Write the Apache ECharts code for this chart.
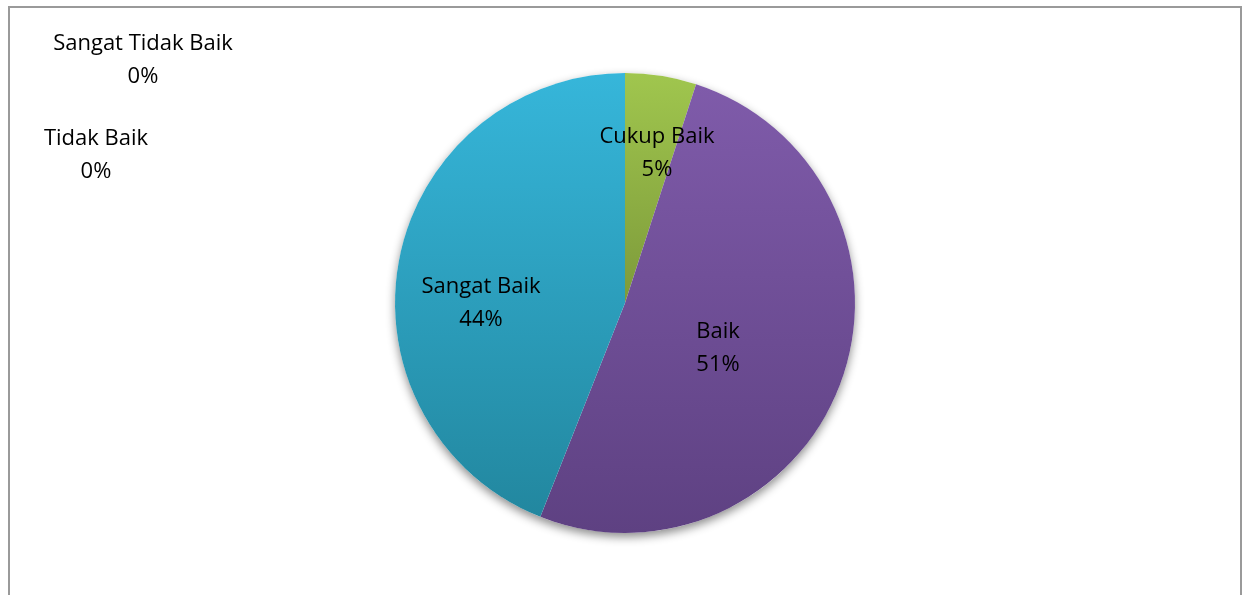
<!DOCTYPE html>
<html>
<head>
<meta charset="utf-8">
<script src="https://cdn.jsdelivr.net/npm/echarts@6/dist/echarts.min.js"></script>
<style>
  html, body { margin: 0; padding: 0; background: #fff; }
  #chart { position: absolute; left: 0; top: 0; width: 1247px; height: 595px; }
  #frame {
    position: absolute; left: 8px; top: 6px; width: 1234px; height: 700px;
    box-sizing: border-box; border: 2px solid #9a9a9a; border-bottom: none;
    pointer-events: none;
  }
</style>
</head>
<body>
<div id="chart"></div>
<div id="frame"></div>
<script>
// Categories in the order of the original worksheet
const categories = ['Sangat Tidak Baik', 'Tidak Baik', 'Cukup Baik', 'Baik', 'Sangat Baik'];
const percentages = [0, 0, 5, 51, 44];

// top / bottom colours of each slice gradient
const topColors = ['#4F81BD', '#C0504D', '#A0C64E', '#7F5BAA', '#36B6DA'];
const bottomColors = ['#3C6494', '#983C3A', '#7D9A3A', '#5E4182', '#22879F'];

// where Excel put each data label (centre of the text block)
const labelSpots = [[143, 60], [96, 155], [657, 153], [718, 348], [481, 303]];

function gradient(i) {
    return new echarts.graphic.LinearGradient(0, 0, 0, 1, [
        { offset: 0, color: topColors[i] },
        { offset: 1, color: bottomColors[i] }
    ]);
}

const chart = echarts.init(document.getElementById('chart'));

chart.setOption({
    animation: false,
    series: [
        {
            // soft shadow under the whole pie
            type: 'pie',
            silent: true,
            center: [625, 303],
            radius: 230,
            z: 1,
            label: { show: false },
            itemStyle: {
                color: '#ffffff',
                shadowBlur: 10,
                shadowOffsetY: 4,
                shadowColor: 'rgba(0,0,0,0.45)'
            },
            data: [{ value: 1, name: '' }]
        },
        {
            type: 'pie',
            center: [625, 303],
            radius: 230,
            startAngle: 90,
            clockwise: true,
            z: 2,
            percentPrecision: 0,
            stillShowZeroSum: true,
            avoidLabelOverlap: false,
            data: categories.map((name, i) => ({
                name: name,
                value: percentages[i],
                itemStyle: { color: gradient(i) }
            })),
            itemStyle: { borderWidth: 0 },
            label: {
                show: true,
                position: 'inside',
                formatter: '{b}\n{d}%',
                fontFamily: 'Open Sans',
                fontSize: 22,
                lineHeight: 33,
                color: '#000',
                align: 'center',
                verticalAlign: 'middle'
            },
            labelLine: { show: false },
            labelLayout: function (params) {
                const p = labelSpots[params.dataIndex];
                return { x: p[0], y: p[1], align: 'center', verticalAlign: 'middle' };
            }
        }
    ]
});
</script>
</body>
</html>
